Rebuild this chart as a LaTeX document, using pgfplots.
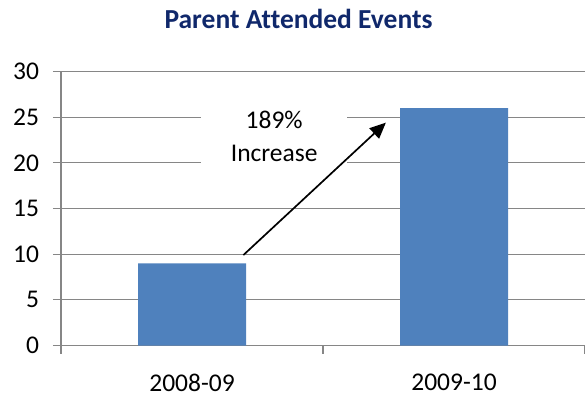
\documentclass[border=0pt]{standalone}
\usepackage{pgfplots}
\pgfplotsset{compat=1.18}
\usepackage{fontspec}
\setmainfont{Carlito}[Ligatures=NoCommon]
\usetikzlibrary{arrows.meta}
\definecolor{barblue}{HTML}{4F81BD}
\definecolor{gridgray}{HTML}{868686}
\definecolor{titleblue}{HTML}{10286B}
\begin{document}
\begin{tikzpicture}
\begin{axis}[
  at={(0pt,0pt)}, anchor=south west,
  scale only axis, width=524pt, height=274pt,
  xmin=-0.5, xmax=1.5, ymin=0, ymax=30,
  axis lines*=left,
  axis line style={gridgray, line width=1.3pt},
  ymajorgrids, grid style={gridgray, line width=1.3pt},
  ytick={0,5,...,30},
  xtick={0,1}, xticklabels={2008-09,2009-10},
  xtick style={draw=none},
  ytick style={gridgray, line width=1.3pt},
  extra x ticks={-0.5,0.5,1.5}, extra x tick labels={},
  extra x tick style={xtick style={draw=gridgray, line width=1.3pt}},
  tick align=outside, major tick length=8pt,
  ticklabel style={font=\fontsize{25.5}{30}\selectfont, text=black},
  xticklabel style={yshift=-17pt},
  yticklabel style={xshift=-10.5pt},
  /pgf/number format/assume math mode=true,
  ybar, bar width=108pt,
]
\addplot[fill=barblue, draw=none] coordinates {(0,9) (1,26)};
\node[fill=white, minimum width=146pt, minimum height=80pt, align=center, font=\fontsize{25.5}{33}\selectfont] at (axis cs:0.3137,22.85) {189\%\\Increase};
\draw[line width=1.7pt, -{Triangle[length=16pt,width=14pt]}] (axis cs:0.196,9.9) -- (axis cs:0.74,24.4);
\end{axis}
\node[font=\bfseries\fontsize{27.5}{32}\selectfont, text=titleblue, anchor=base] at (237.5pt,316.5pt) {Parent Attended Events};
\pgfresetboundingbox
\useasboundingbox (-61pt,-55.5pt) rectangle (524pt,345.5pt);
\end{tikzpicture}
\end{document}
